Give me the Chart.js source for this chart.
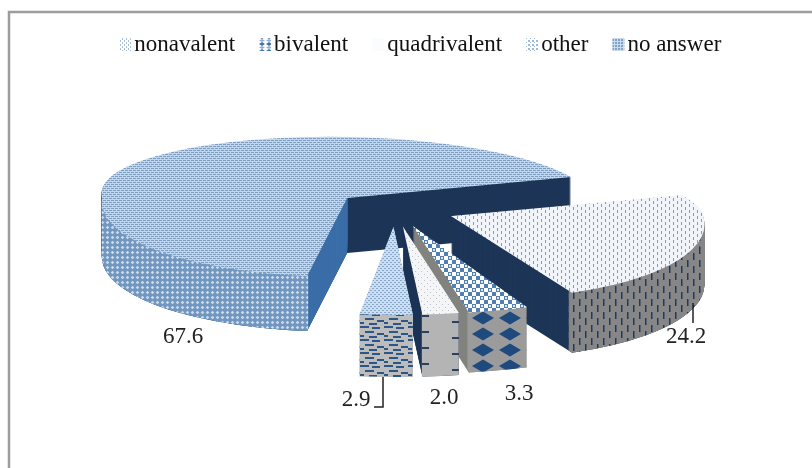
<!doctype html>
<html lang="en">
<head>
<meta charset="utf-8" />
<title>Vaccine pie</title>
<style>
    html, body { margin: 0; background: #fff; }
    canvas { display: block; filter: blur(0.4px); }
</style>
<script src="https://cdn.jsdelivr.net/npm/chart.js@4"></script>
</head>
<body>
<canvas id="myChart" width="812" height="468"></canvas>
<script>
// data, in clockwise order starting from the rotation angle
const categories = ['nonavalent', 'bivalent', 'quadrivalent', 'other', 'no answer'];
const shares = [24.2, 3.3, 2.0, 2.9, 67.6];
const shareLabels = ['24.2', '3.3', '2.0', '2.9', '67.6'];

// tile painter for the hatch fills
function tile(w, h, bg, paint) {
    const c = document.createElement('canvas');
    c.width = w; c.height = h;
    const g = c.getContext('2d');
    g.fillStyle = bg;
    g.fillRect(0, 0, w, h);
    paint(g);
    return c;
}
const chartCtx = document.getElementById('myChart').getContext('2d');
const pat = (w, h, bg, paint) => chartCtx.createPattern(tile(w, h, bg, paint), 'repeat');
const navy = '#1d3557';

const diamond = (g, x, y, rx, ry) => {
    g.beginPath();
    g.moveTo(x - rx, y); g.lineTo(x, y - ry); g.lineTo(x + rx, y); g.lineTo(x, y + ry);
    g.closePath(); g.fill();
};

// top faces
const topFills = [
    pat(8, 6, '#f1f5fa', g => {
        g.fillStyle = '#7f9dc2';
        g.fillRect(1, 0, 1, 3); g.fillRect(5, 3, 1, 3);
    }),
    pat(8, 8, '#ffffff', g => {
        g.fillStyle = '#4f7fb5';
        g.fillRect(0, 0, 4, 4); g.fillRect(4, 4, 4, 4);
        g.fillStyle = '#dfe8f2';
        g.fillRect(1, 1, 2, 2);
    }),
    pat(6, 6, '#f5f5f5', g => {
        g.fillStyle = '#b8c4d2';
        g.fillRect(1, 1, 1, 1); g.fillRect(4, 4, 1, 1);
    }),
    pat(4, 4, '#cfdeee', g => {
        g.fillStyle = '#86a8cd';
        g.fillRect(0, 0, 2, 1); g.fillRect(2, 2, 2, 1);
    }),
    pat(4, 4, '#c4d6e9', g => {
        g.fillStyle = '#7a9ec6';
        g.fillRect(0, 0, 2, 1); g.fillRect(2, 2, 2, 1);
        g.fillRect(3, 0, 1, 1); g.fillRect(1, 2, 1, 1);
    })
];
// outer walls
const wallFills = [
    pat(12, 13, '#868686', g => {
        g.fillStyle = '#1f3a5f';
        g.fillRect(3, 0, 1.5, 7); g.fillRect(9, 6, 1.5, 7);
    }),
    pat(27, 16, '#9b9b9b', g => {
        g.fillStyle = '#1f4a7e';
        [0, -27].forEach(dx => [0, -16].forEach(dy => diamond(g, 24 + dx, 14 + dy, 11, 6.5)));
    }),
    pat(60, 16, '#b4b4b4', g => {
        g.fillStyle = '#27415f';
        g.fillRect(2, 11, 7, 2); g.fillRect(32, 1, 7, 2);
    }),
    pat(24, 13, '#bcbcbc', g => {
        g.fillStyle = '#2c5688';
        g.fillRect(0, 1, 9, 2); g.fillRect(12, 2, 8, 2);
        g.fillRect(5, 6, 9, 2); g.fillRect(17, 8, 7, 2);
        g.fillRect(0, 10, 4, 2); g.fillRect(9, 11, 8, 2);
    }),
    pat(5, 5, '#7196c0', g => {
        g.fillStyle = '#cddbea';
        diamond(g, 2.5, 2.5, 1.8, 1.8);
    })
];
// legend swatches
const legendFills = [
    pat(4, 4, '#ffffff', g => { g.fillStyle = '#a9bfd8'; g.fillRect(0, 0, 1, 2); g.fillRect(2, 2, 1, 2); }),
    pat(7, 7, '#ffffff', g => { g.fillStyle = '#3f72ad'; diamond(g, 3, 2, 3, 2); g.fillStyle = '#8fb0d4'; diamond(g, 3, 5.5, 3, 1.5); }),
    '#fbfcfd',
    pat(4, 4, '#ffffff', g => { g.fillStyle = '#9db9d8'; g.fillRect(0, 0, 2, 2); g.fillRect(2, 2, 1, 1); }),
    pat(3, 3, '#cbdbec', g => { g.fillStyle = '#7ea2c9'; g.fillRect(0, 0, 2, 2); })
];

// how the flat doughnut is laid on its side
const view = {
    cx: 395, cy: 209,       // pie centre before exploding
    explode: 61,
    flat: 0.29,             // foreshortening of the explode shift
    backTilt: 0.25,         // foreshortening behind the slice tip
    backShear: 0.3
};
const frontTilt = [0.34, 0.36, 0.36, 0.36, 0.32];
const frontShear = [0.3, 0, 0, 0, -0.15];
const widen = [1.03, 1.2, 1.2, 1.2, 1];
const depth = [60, 60, 62, 62, 55];
const sideColors = [navy, '#82827f', navy, '#9a9a9a', navy];
const paintOrder = [4, 0, 1, 2, 3];

const labelSpots = [[686, 337], [519, 394], [444, 398], [356, 400], [183, 337]];

function tip(arc) {
    const mid = (arc.startAngle + arc.endAngle) / 2;
    return {
        x: view.cx + Math.cos(mid) * view.explode,
        y: view.cy + Math.sin(mid) * view.explode * view.flat
    };
}

// draws one copy of the slice, shifted down by d; front and back halves get their own tilt
function stamp(ctx, arc, i, d, fill, thin, clipLeft) {
    const t = tip(arc);
    const y = t.y + d;
    const saved = { o: arc.options, inner: arc.innerRadius };
    arc.options = Object.assign({}, arc.options, { backgroundColor: fill, borderWidth: 0 });
    if (thin) arc.innerRadius = arc.outerRadius - 8;   // thick enough that the wall colour does not bleed through
    const halves = [[y, frontTilt[i], frontShear[i]]];
    if (!thin) halves.push([y - 600, view.backTilt, view.backShear]);   // the rim behind the tip stays hidden
    halves.forEach(([top, k, shear]) => {
        ctx.save();
        ctx.beginPath();
        ctx.rect(0, top, clipLeft ? t.x : 812, 600);
        ctx.clip();
        ctx.translate(t.x, y);
        ctx.transform(1, 0, shear, 1, 0, 0);
        ctx.scale(widen[i], k);
        ctx.translate(-arc.x, -arc.y);
        if (fill instanceof CanvasPattern) fill.setTransform(ctx.getTransform().inverse());
        arc.draw(ctx);
        ctx.restore();
    });
    arc.options = saved.o;
    arc.innerRadius = saved.inner;
}

const pie3d = {
    id: 'pie3d',
    beforeDraw(chart) {
        // the frame only survives on the top and left
        const ctx = chart.ctx;
        ctx.save();
        ctx.strokeStyle = '#9c9c9c';
        ctx.lineWidth = 2.5;
        ctx.beginPath();
        ctx.moveTo(9, 468); ctx.lineTo(9, 12); ctx.lineTo(812, 12);
        ctx.stroke();
        ctx.restore();
    },
    beforeDatasetsDraw(chart) {
        const ctx = chart.ctx;
        const arcs = chart.getDatasetMeta(0).data;
        paintOrder.forEach(i => {
            const arc = arcs[i];
            for (let d = depth[i]; d > 0; d--) stamp(ctx, arc, i, d, sideColors[i]);
            if (i === 4) for (let d = depth[i]; d > 0; d--) stamp(ctx, arc, i, d, '#3b6ea8', false, true);
            for (let d = depth[i]; d > 0; d--) stamp(ctx, arc, i, d, wallFills[i], true);
            stamp(ctx, arc, i, 0, topFills[i]);
        });
        // legend swatches sit tight against their text
        chart.legend.legendHitBoxes.forEach((box, i) => {
            ctx.fillStyle = legendFills[i];
            ctx.fillRect(box.left - 3.5, 38, 12, 13);
        });
        // leader lines
        ctx.save();
        ctx.strokeStyle = '#222';
        ctx.lineWidth = 1.5;
        ctx.beginPath();
        ctx.moveTo(383, 377); ctx.lineTo(383, 407); ctx.lineTo(374, 407);
        ctx.moveTo(693, 303); ctx.lineTo(693, 323);
        ctx.stroke();
        ctx.fillStyle = '#222';
        ctx.font = '23px "Liberation Serif"';
        ctx.textAlign = 'center';
        ctx.textBaseline = 'middle';
        shareLabels.forEach((s, i) => ctx.fillText(s, labelSpots[i][0], labelSpots[i][1]));
        ctx.restore();
        return false;
    }
};

new Chart(chartCtx, {
    type: 'pie',
    data: {
        labels: categories,
        datasets: [{ data: shares, backgroundColor: topFills, borderWidth: 0, radius: 245 }]
    },
    options: {
        responsive: false,
        animation: false,
        rotation: 70,
        layout: { padding: { top: 6, left: 32 } },
        plugins: {
            tooltip: { enabled: false },
            legend: {
                position: 'top',
                labels: {
                    color: '#111',
                    font: { family: '"Liberation Serif"', size: 23 },
                    boxWidth: 0,
                    padding: 27.5,
                    generateLabels: chart => categories.map((c, i) => ({
                        text: c,
                        index: i,
                        fillStyle: 'rgba(0,0,0,0)',
                        strokeStyle: 'rgba(0,0,0,0)',
                        lineWidth: 0,
                        fontColor: '#111'
                    }))
                }
            }
        }
    },
    plugins: [pie3d]
});
</script>
</body>
</html>
